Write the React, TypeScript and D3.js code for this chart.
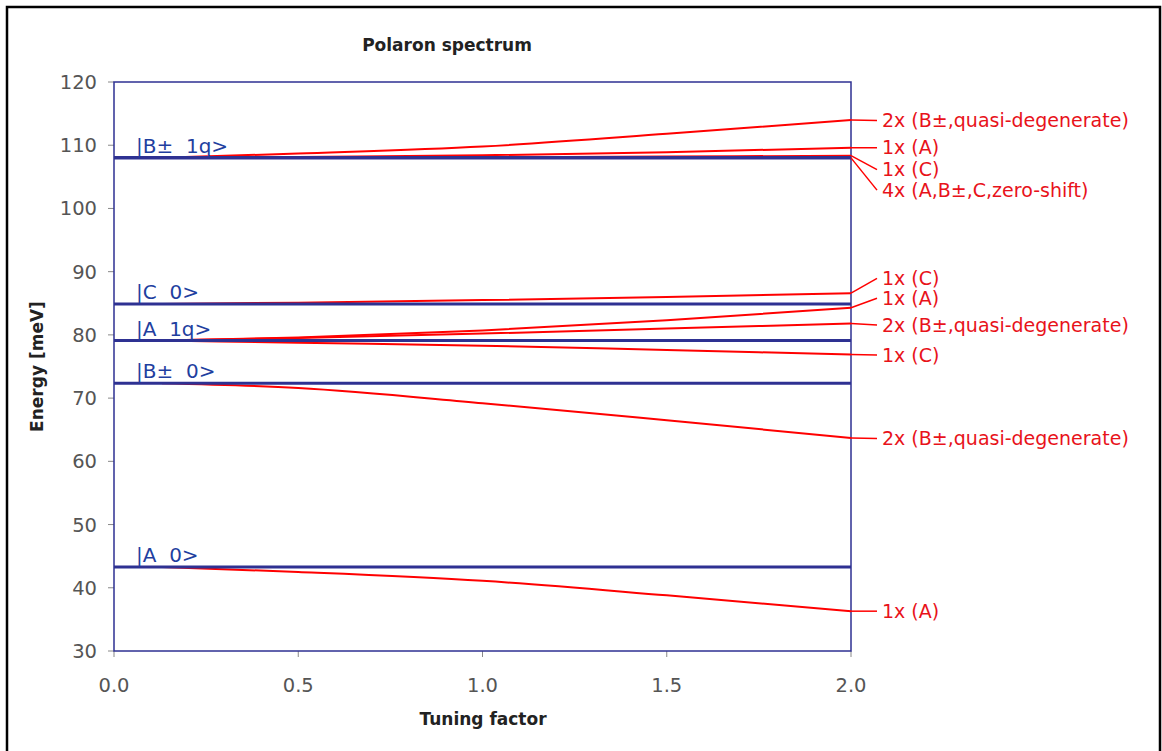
import React from "react";
import * as d3 from "d3";

// ---------- data ----------
const tuning = [0.13, 0.5, 1.0, 1.5, 2.0];

const levelNames = ["|B\u00b1  1q>", "|C  0>", "|A  1q>", "|B\u00b1  0>", "|A  0>"];
const levelValues = [108.0, 84.9, 79.1, 72.35, 43.3];

// red branches (meV vs tuning factor)
const bTopQuasi = [108.0, 108.7, 109.8, 111.8, 114.0];
const bTopA = [108.0, 108.15, 108.4, 108.9, 109.6];
const bTopC = [108.0, 108.05, 108.1, 108.2, 108.35];
const bTopZero = [108.0, 108.0, 108.0, 108.0, 108.0];
const cMidC = [84.9, 85.1, 85.5, 86.0, 86.6];
const aMidA = [79.1, 79.6, 80.7, 82.3, 84.3];
const aMidQuasi = [79.1, 79.5, 80.2, 81.0, 81.8];
const aMidC = [79.1, 78.75, 78.3, 77.6, 76.9];
const bLowQuasi = [72.35, 71.6, 69.2, 66.5, 63.7];
const aLowA = [43.3, 42.5, 41.1, 38.8, 36.3];

const branches = [bTopZero, bTopC, bTopA, bTopQuasi, cMidC, aMidA, aMidQuasi, aMidC, bLowQuasi, aLowA];
const branchLabels = [
  "4x (A,B\u00b1,C,zero-shift)",
  "1x (C)",
  "1x (A)",
  "2x (B\u00b1,quasi-degenerate)",
  "1x (C)",
  "1x (A)",
  "2x (B\u00b1,quasi-degenerate)",
  "1x (C)",
  "2x (B\u00b1,quasi-degenerate)",
  "1x (A)",
];
// where each label sits on the energy axis
const labelAnchors = [102.9, 106.15, 109.6, 113.9, 88.95, 85.8, 81.55, 76.8, 63.6, 36.3];

const yTicks = [30, 40, 50, 60, 70, 80, 90, 100, 110, 120];
const xTicks = [0, 0.5, 1.0, 1.5, 2.0];

const title = "Polaron spectrum";
const xTitle = "Tuning factor";
const yTitle = "Energy [meV]";

// ---------- styles ----------
const FONT = "'DejaVu Sans', sans-serif";
const NAVY = "#2e3192";
const RED = "#ff0000";
const RED_TEXT = "#e8121a";

export default function App() {
  const W = 1162;
  const H = 751;
  const x = d3.scaleLinear().domain([0, 2]).range([114, 851]);
  const y = d3.scaleLinear().domain([30, 120]).range([651, 82]);
  const line = d3
    .line<number>()
    .x((_, i) => x(tuning[i]))
    .y((d) => y(d))
    .curve(d3.curveMonotoneX);

  const labelX = x(2) + 26;

  return (
    <svg
      width={W}
      height={H}
      style={{ position: "absolute", left: 0, top: 0, background: "#fff" }}
      fontFamily={FONT}
    >
      <rect x={0} y={0} width={W} height={H} fill="#fff" />
      {/* outer frame */}
      <rect x={7} y={7} width={1153} height={780} fill="none" stroke="#000" strokeWidth={2.5} />

      {/* title */}
      <text x={447} y={51} textAnchor="middle" fontSize={17} fontWeight="bold" fill="#222">
        {title}
      </text>

      {/* y ticks */}
      {yTicks.map((t) => (
        <g key={"y" + t}>
          <line x1={x(0) - 6} x2={x(0)} y1={y(t)} y2={y(t)} stroke="#888" strokeWidth={1} />
          <text x={97} y={y(t)} dy="0.36em" textAnchor="end" fontSize={19.5} fill="#555">
            {t}
          </text>
        </g>
      ))}
      {/* x ticks */}
      {xTicks.map((t) => (
        <g key={"x" + t}>
          <line x1={x(t)} x2={x(t)} y1={y(30)} y2={y(30) + 6} stroke="#888" strokeWidth={1} />
          <text x={x(t)} y={y(30) + 41} textAnchor="middle" fontSize={19.5} fill="#555">
            {d3.format(".1f")(t)}
          </text>
        </g>
      ))}

      {/* axis titles */}
      <text x={483} y={725} textAnchor="middle" fontSize={17} fontWeight="bold" fill="#222">
        {xTitle}
      </text>
      <text
        transform={`translate(43, ${y(75)}) rotate(-90)`}
        textAnchor="middle"
        fontSize={17}
        fontWeight="bold"
        fill="#222"
      >
        {yTitle}
      </text>

      {/* plot frame */}
      <rect
        x={x(0)}
        y={y(120)}
        width={x(2) - x(0)}
        height={y(30) - y(120)}
        fill="none"
        stroke={NAVY}
        strokeWidth={1.5}
      />

      {/* red branches */}
      {branches.map((b, i) => (
        <path key={"b" + i} d={line(b) || ""} fill="none" stroke={RED} strokeWidth={2} />
      ))}

      {/* unperturbed levels */}
      {levelValues.map((v, i) => (
        <g key={"l" + i}>
          <line
            x1={x(0)}
            x2={x(2)}
            y1={y(v)}
            y2={y(v)}
            stroke={NAVY}
            strokeWidth={i === 0 ? 3.5 : 3}
          />
          <text
            x={136}
            y={y(v) - 5}
            fontSize={20}
            fill="#1f3f9f"
            style={{ whiteSpace: "pre" }}
            xmlSpace="preserve"
          >
            {levelNames[i]}
          </text>
        </g>
      ))}

      {/* labels and leaders */}
      {branches.map((b, i) => (
        <g key={"t" + i}>
          <line
            x1={x(2)}
            y1={y(b[b.length - 1])}
            x2={labelX}
            y2={y(labelAnchors[i])}
            stroke={RED}
            strokeWidth={1.5}
          />
          <text
            x={labelX + 5}
            y={y(labelAnchors[i])}
            dy="0.34em"
            fontSize={19}
            fill={RED_TEXT}
          >
            {branchLabels[i]}
          </text>
        </g>
      ))}
    </svg>
  );
}
